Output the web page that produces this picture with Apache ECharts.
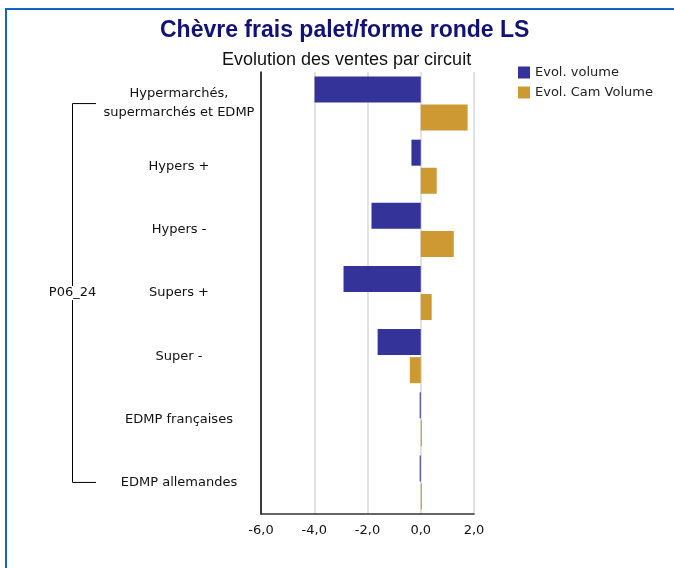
<!DOCTYPE html>
<html>
<head>
<meta charset="utf-8">
<script src="https://cdn.jsdelivr.net/npm/echarts@6/dist/echarts.min.js"></script>
<style>
  html, body { margin: 0; padding: 0; background: #fff; }
  #chart { width: 674px; height: 568px; }
</style>
</head>
<body>
<div id="chart"></div>
<script>
// Circuits, top to bottom
const categories = [
  'Hypermarchés,\nsupermarchés et EDMP',
  'Hypers +',
  'Hypers -',
  'Supers +',
  'Super -',
  'EDMP françaises',
  'EDMP allemandes'
];
const groupLabel = 'P06_24';
const evolVolume = [-3.99, -0.35, -1.85, -2.90, -1.62, -0.04, -0.04];
const evolCamVolume = [1.76, 0.60, 1.24, 0.41, -0.41, 0.04, 0.04];
const xTicks = [-6, -4, -2, 0, 2];

const fmt = v => v.toFixed(1).replace('.', ',');
const FONT = 'Tahoma, "DejaVu Sans", sans-serif';

const chart = echarts.init(document.getElementById('chart'), null, { renderer: 'canvas' });

const option = {
  animation: false,
  backgroundColor: '#fff',
  title: [
    {
      text: 'Chèvre frais palet/forme ronde LS',
      left: 155, top: 14,
      textStyle: { fontFamily: 'Liberation Sans', fontWeight: 'bold', fontSize: 23, color: '#111177' }
    },
    {
      text: 'Evolution des ventes par circuit',
      left: 217, top: 46,
      textStyle: { fontFamily: 'Liberation Sans', fontWeight: 'normal', fontSize: 18, color: '#111' }
    }
  ],
  legend: {
    orient: 'vertical',
    left: 513, top: 61,
    itemWidth: 12, itemHeight: 12, itemGap: 7,
    icon: 'rect',
    textStyle: { fontFamily: FONT, fontSize: 13, color: '#222' },
    data: ['Evol. volume', 'Evol. Cam Volume']
  },
  grid: { left: 261, right: 200, top: 72, bottom: 54 },
  xAxis: {
    type: 'value',
    min: xTicks[0], max: xTicks[xTicks.length - 1], interval: 2,
    axisLine: { show: true, onZero: false, lineStyle: { color: '#333', width: 1.5 } },
    axisTick: { show: false },
    splitLine: { show: true, lineStyle: { color: '#d9d9d9', width: 1.5 } },
    axisLabel: { formatter: fmt, fontFamily: FONT, fontSize: 13, color: '#111', margin: 10 }
  },
  yAxis: {
    type: 'category',
    inverse: true,
    data: categories,
    axisLine: { show: true, onZero: false, lineStyle: { color: '#000', width: 1.5 } },
    axisTick: { show: false },
    axisLabel: {
      align: 'center', margin: 82, lineHeight: 19,
      fontFamily: FONT, fontSize: 13, color: '#111'
    }
  },
  series: [
    {
      name: 'Evol. volume', type: 'bar', data: evolVolume,
      barWidth: 26, barGap: '8%',
      itemStyle: { color: '#333399' }
    },
    {
      name: 'Evol. Cam Volume', type: 'bar', data: evolCamVolume,
      barWidth: 26,
      itemStyle: { color: '#CC9933' }
    }
  ]
};

chart.setOption(option);

// Outer frame and the group bracket on the left of the category labels
function drawDecorations() {
  const yFirst = chart.convertToPixel({ yAxisIndex: 0 }, categories[0]);
  const yLast = chart.convertToPixel({ yAxisIndex: 0 }, categories[categories.length - 1]);
  const yMid = (yFirst + yLast) / 2;
  const bx = 72.5, tickEnd = 96;
  const gapHalf = 7;
  const lineStyle = { stroke: '#000', lineWidth: 1 };
  chart.setOption({
    graphic: [
      { type: 'rect', shape: { x: 6, y: 9, width: 900, height: 900 },
        style: { fill: null, stroke: '#1565c0', lineWidth: 2 }, silent: true, z: 100 },
      { type: 'polyline', shape: { points: [[tickEnd, yFirst], [bx, yFirst], [bx, yMid - gapHalf]] },
        style: lineStyle, silent: true },
      { type: 'polyline', shape: { points: [[bx, yMid + gapHalf], [bx, yLast], [tickEnd, yLast]] },
        style: lineStyle, silent: true },
      { type: 'text', x: bx, y: yMid,
        style: { text: groupLabel, fill: '#111', font: '13px ' + FONT, align: 'center', verticalAlign: 'middle' },
        silent: true }
    ]
  });
}
drawDecorations();
</script>
</body>
</html>
